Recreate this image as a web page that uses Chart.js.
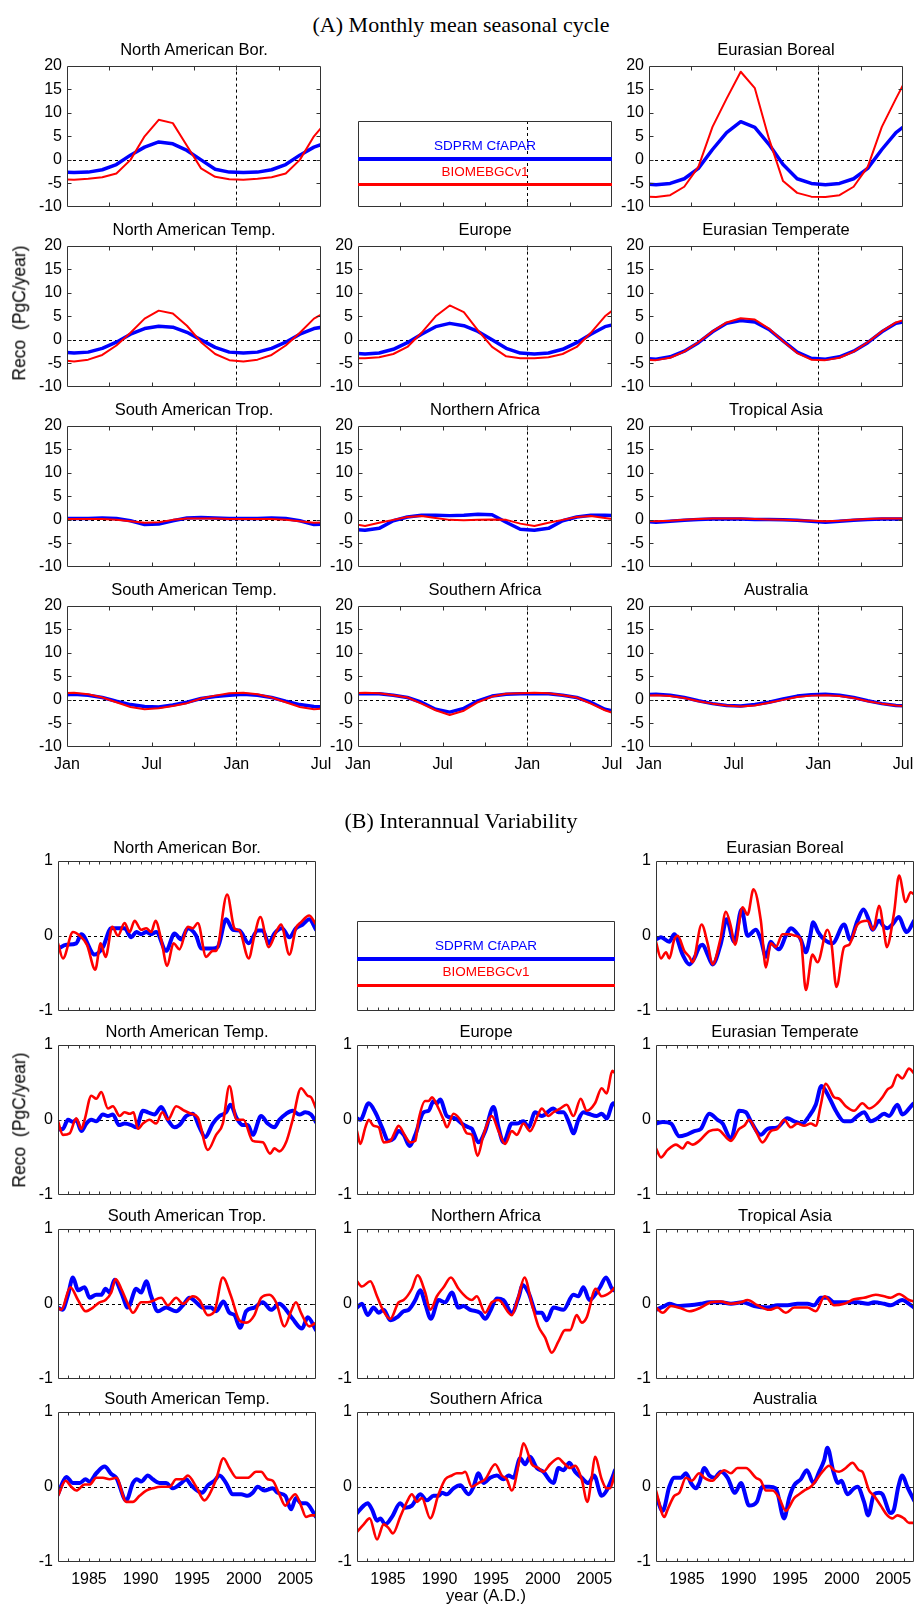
<!DOCTYPE html>
<html><head><meta charset="utf-8">
<script src="https://cdn.jsdelivr.net/npm/chart.js@4.4.1/dist/chart.umd.min.js"></script>
<style>
body{margin:0;background:#fff;}
#wrap{position:relative;width:917px;height:1605px;overflow:hidden;background:#fff;}
canvas{position:absolute;}
</style></head><body><div id="wrap"></div>
<script>
// ---------------- DATA ----------------
const regionNames = ['North American Bor.','Eurasian Boreal','North American Temp.','Europe','Eurasian Temperate','South American Trop.','Northern Africa','Tropical Asia','South American Temp.','Southern Africa','Australia'];
const seriesNames = ['SDPRM CfAPAR','BIOMEBGCv1'];
const seasonTickLabels = ['Jan','Jul','Jan','Jul'];
const seasonYTicks = [-10,-5,0,5,10,15,20];
const yearTickLabels = [1985,1990,1995,2000,2005];
const iavYTicks = [-1,0,1];

// (A) monthly mean seasonal cycle, Jan..Dec (mid-month values)
const seasNaBorBlue  = [-2.7,-2.6,-2.1,-1.0,1.0,2.7,3.8,3.4,2.0,0.0,-2.0,-2.6];
const seasNaBorRed   = [-4.2,-4.0,-3.7,-2.9,0.0,5.0,8.5,7.8,3.0,-1.8,-3.6,-4.1];
const seasEuBorBlue  = [-5.3,-5.0,-4.0,-1.8,2.2,5.8,8.1,6.9,3.3,-1.0,-4.0,-5.0];
const seasEuBorRed   = [-7.9,-7.5,-5.7,-1.5,7.0,13.0,18.7,15.2,4.5,-4.5,-7.0,-7.8];
const seasNaTempBlue = [-2.8,-2.6,-1.8,-0.5,1.2,2.4,2.9,2.7,1.6,0.0,-1.6,-2.6];
const seasNaTempRed  = [-4.6,-4.2,-3.2,-1.2,1.5,4.5,6.2,5.6,3.0,-0.5,-3.0,-4.3];
const seasEuropeBlue = [-3.0,-2.8,-2.0,-0.6,1.2,2.8,3.5,3.0,1.8,0.0,-1.8,-2.8];
const seasEuropeRed  = [-3.9,-3.7,-3.0,-1.5,1.5,5.0,7.3,5.9,2.0,-1.5,-3.5,-3.9];
const seasEuTempBlue = [-4.1,-3.6,-2.4,-0.6,1.7,3.5,4.1,3.8,2.2,-0.2,-2.6,-3.9];
const seasEuTempRed  = [-4.3,-3.8,-2.5,-0.5,1.8,3.7,4.6,4.3,2.4,-0.3,-2.8,-4.2];
const seasSaTropBlue = [0.3,0.3,0.4,0.3,-0.2,-1.0,-0.9,-0.2,0.4,0.5,0.4,0.3];
const seasSaTropRed  = [0.2,0.2,0.2,0.0,-0.3,-0.6,-0.5,0.0,0.3,0.3,0.3,0.2];
const seasNAfrBlue   = [-2.2,-1.8,-0.2,0.6,1.0,1.0,0.9,1.0,1.2,1.1,-0.5,-2.0];
const seasNAfrRed    = [-1.3,-0.6,0.0,0.6,0.8,0.4,0.0,-0.1,0.0,0.1,0.0,-0.8];
const seasTAsiaBlue  = [-0.5,-0.3,-0.1,0.1,0.2,0.2,0.2,0.1,0.1,0.0,-0.1,-0.3];
const seasTAsiaRed   = [-0.3,-0.2,0.0,0.2,0.3,0.3,0.3,0.2,0.1,0.0,-0.1,-0.2];
const seasSaTempBlue = [1.2,1.0,0.5,-0.3,-1.0,-1.4,-1.5,-1.1,-0.5,0.3,0.7,1.0];
const seasSaTempRed  = [1.5,1.2,0.5,-0.5,-1.5,-2.0,-1.8,-1.3,-0.7,0.3,0.9,1.4];
const seasSAfrBlue   = [1.3,1.3,1.0,0.5,-0.5,-2.0,-2.6,-1.8,-0.2,0.8,1.2,1.3];
const seasSAfrRed    = [1.5,1.4,1.0,0.5,-0.8,-2.2,-3.2,-2.3,-0.5,0.7,1.3,1.4];
const seasAustrBlue  = [1.2,1.0,0.5,-0.2,-0.8,-1.2,-1.3,-1.0,-0.5,0.2,0.8,1.1];
const seasAustrRed   = [1.0,0.8,0.4,-0.3,-0.8,-1.2,-1.4,-1.2,-0.6,0.0,0.6,0.9];

// (B) interannual variability, [year, PgC/yr]
const iavNaBorBlue = [[1982,-0.17],[1982.81,-0.12],[1983.77,-0.1],[1984.26,0.02],[1985.55,-0.25],[1986.35,-0.15],[1987.16,0.1],[1987.97,0.1],[1988.45,0.1],[1989.1,-0.02],[1989.58,0.05],[1990.06,0.02],[1990.55,0.05],[1991.03,0.02],[1991.52,0.05],[1992.48,-0.2],[1993.29,0.03],[1993.94,-0.05],[1994.58,0.1],[1995.39,0],[1995.87,-0.17],[1997,-0.17],[1997.48,-0.15],[1998.29,0.22],[1998.94,0.08],[1999.58,0.07],[2000.48,-0.1],[2001.35,0.07],[2001.84,0.07],[2002.42,-0.1],[2002.97,0.03],[2003.71,0.1],[2004.42,-0.02],[2005.06,0.1],[2005.71,0.15],[2006.35,0.22],[2007,0.08]];
const iavNaBorRed = [[1982,-0.1],[1982.48,-0.3],[1983.45,0.05],[1984.1,0],[1984.81,-0.12],[1985.61,-0.45],[1986.13,-0.1],[1986.61,-0.28],[1987.26,0.12],[1987.81,0],[1988.45,0.17],[1988.94,0.05],[1989.42,0.2],[1990.06,0.08],[1990.55,0.1],[1991.03,0.05],[1991.45,0.2],[1992,-0.05],[1992.58,-0.4],[1993.19,-0.1],[1993.77,-0.18],[1994.58,0.12],[1995.06,0.1],[1995.55,0.17],[1996.35,-0.28],[1997,-0.2],[1997.32,-0.2],[1998.39,0.55],[1999.1,0.1],[1999.58,0.07],[2000.48,-0.3],[2001.03,0],[2001.61,0.25],[2002.42,-0.15],[2003.13,0.05],[2003.61,0.15],[2004.42,-0.25],[2005.06,0.1],[2005.55,0.18],[2006.35,0.27],[2007,0.15]];
const iavEuBorBlue = [[1982,-0.05],[1982.48,-0.02],[1983.29,-0.08],[1983.77,0.02],[1984.58,-0.25],[1985.23,-0.38],[1985.71,-0.3],[1986.19,-0.15],[1986.52,-0.12],[1987,-0.25],[1987.48,-0.38],[1988.29,-0.1],[1988.84,0.22],[1989.58,-0.08],[1990.29,0.35],[1990.87,0],[1991.68,0.08],[1992.16,-0.05],[1992.65,-0.28],[1993.13,-0.08],[1993.39,-0.12],[1993.94,-0.18],[1994.58,0],[1995.06,0.1],[1995.55,0.05],[1996.03,-0.05],[1996.52,-0.22],[1996.94,0],[1997.23,0.18],[1997.71,0.05],[1998.29,-0.05],[1999.1,-0.1],[2000.23,0.15],[2000.81,-0.05],[2001.52,0.2],[2002.1,0.35],[2002.65,0.2],[2002.97,0.08],[2003.61,0.2],[2004.1,0.12],[2004.42,0.1],[2004.9,0.15],[2005.55,0.25],[2006.03,0.1],[2006.29,0.05],[2007,0.2]];
const iavEuBorRed = [[1982,-0.08],[1982.48,-0.3],[1982.97,-0.22],[1983.29,-0.3],[1983.77,-0.05],[1984.1,0],[1984.74,-0.2],[1985.23,-0.28],[1985.55,-0.35],[1986.42,0.15],[1987,-0.1],[1987.48,-0.38],[1988.23,-0.05],[1988.77,0.32],[1989.26,0.12],[1989.65,-0.12],[1990.39,0.38],[1990.87,0.28],[1991.45,0.62],[1992.16,0.2],[1992.65,-0.42],[1993.13,-0.1],[1993.61,-0.15],[1994.26,0.02],[1994.9,0.02],[1995.55,0],[1996.03,-0.05],[1996.52,-0.72],[1997.16,-0.25],[1997.65,-0.35],[1998.61,0.08],[1999,-0.1],[1999.48,-0.68],[2000.23,-0.15],[2000.71,-0.12],[2001.52,0.15],[2002.48,0.2],[2003.06,0.08],[2003.61,0.4],[2004.1,0.05],[2004.35,-0.15],[2005.06,0.3],[2005.55,0.8],[2006.19,0.45],[2006.68,0.58],[2007,0.55]];
const iavNaTempBlue = [[1982,-0.13],[1982.48,-0.12],[1982.97,0],[1983.45,-0.03],[1983.77,0],[1984.26,-0.15],[1984.74,-0.05],[1985.23,0],[1985.71,-0.02],[1986.35,0.07],[1986.84,0.05],[1987.32,0.07],[1987.9,-0.07],[1988.45,-0.05],[1989.1,-0.07],[1989.58,-0.1],[1990.23,0.12],[1990.71,0.1],[1991.35,0.07],[1992,0.17],[1992.65,0],[1993.29,-0.1],[1993.77,-0.07],[1994.42,0.05],[1995.06,0.08],[1995.71,-0.1],[1996.26,-0.23],[1997,-0.05],[1997.65,0.05],[1998.29,0.1],[1998.71,0.2],[1999.32,0.02],[1999.9,-0.07],[2000.39,-0.07],[2000.87,-0.2],[2001.68,0.05],[2002.32,-0.05],[2002.97,-0.1],[2003.45,0],[2004.1,0.08],[2004.74,0.12],[2005.39,0.07],[2005.97,0.1],[2006.52,0.07],[2007,-0.03]];
const iavNaTempRed = [[1982,-0.02],[1982.48,-0.2],[1983.13,-0.18],[1983.77,0.02],[1984.26,-0.12],[1984.58,0],[1985.23,0.32],[1985.71,0.28],[1986.19,0.37],[1986.84,0.15],[1987.32,0.18],[1987.97,0.05],[1988.45,0.1],[1988.94,0.08],[1989.32,0.1],[1989.74,-0.12],[1990.23,-0.05],[1990.87,0],[1991.52,-0.05],[1992.1,0.1],[1992.65,0],[1993.45,0.18],[1994.26,0.12],[1994.9,0.08],[1995.55,0.03],[1996.52,-0.4],[1997.32,-0.2],[1997.97,-0.05],[1998.61,0.45],[1999.32,0],[1999.97,0],[2000.87,-0.28],[2001.84,-0.3],[2002.55,-0.45],[2002.97,-0.38],[2003.45,-0.42],[2004.1,-0.3],[2004.74,0],[2005.55,0.42],[2006.19,0.32],[2006.52,0.3],[2007,0.15]];
const iavEuropeBlue = [[1982,0.02],[1982.32,0],[1983.13,0.22],[1983.77,0.1],[1984.42,-0.1],[1985.06,-0.28],[1985.55,-0.25],[1986.03,-0.15],[1986.52,-0.2],[1987.1,-0.35],[1987.65,-0.2],[1988.45,0.1],[1988.94,0.12],[1989.42,0.25],[1989.74,0.22],[1990.06,0.27],[1990.71,0.05],[1991.52,0.02],[1992.16,-0.05],[1992.81,-0.1],[1993.13,-0.12],[1993.77,-0.3],[1994.42,-0.15],[1995.23,0.17],[1995.71,-0.1],[1996.19,-0.3],[1997,-0.05],[1997.48,-0.05],[1998.13,-0.02],[1998.61,-0.1],[1999.26,0.1],[1999.9,0.05],[2001.03,0.15],[2001.52,0.1],[2002,0.1],[2002.58,-0.05],[2002.97,-0.18],[2003.45,0],[2003.94,0.1],[2004.42,0.08],[2005.23,0.05],[2005.71,0.08],[2006.19,0.02],[2006.84,0.22],[2007,0.2]];
const iavEuropeRed = [[1982,-0.15],[1982.32,-0.32],[1982.81,-0.1],[1983.13,0],[1983.61,-0.08],[1984.1,-0.1],[1984.58,-0.3],[1985.23,-0.28],[1985.71,-0.15],[1986.03,-0.08],[1986.68,-0.22],[1987.16,-0.3],[1987.65,-0.28],[1987.97,0],[1988.61,0.25],[1988.94,0.25],[1989.26,0.3],[1989.9,0.15],[1990.39,0],[1990.71,-0.1],[1991.35,0.08],[1992,0],[1992.65,-0.18],[1993.13,-0.2],[1993.68,-0.48],[1994.26,-0.2],[1995.06,0.05],[1995.71,-0.15],[1996.35,-0.32],[1997,-0.15],[1997.48,-0.2],[1998.13,-0.05],[1998.77,-0.15],[1999.58,0.08],[1999.9,0.15],[2000.55,0.05],[2001.03,0.1],[2001.68,0.15],[2002.32,0.2],[2002.97,0.05],[2003.68,0.28],[2004.26,0.12],[2005.06,0.22],[2005.71,0.42],[2006.19,0.35],[2006.74,0.65],[2007,0.62]];
const iavEuTempBlue = [[1982,-0.05],[1982.65,-0.03],[1983.45,-0.05],[1984.26,-0.22],[1984.9,-0.2],[1985.71,-0.15],[1986.35,-0.12],[1987.16,0.08],[1987.97,0],[1988.45,-0.05],[1989.26,-0.25],[1990.06,0.12],[1990.71,0.1],[1991.19,-0.02],[1992.16,-0.2],[1992.81,-0.12],[1993.77,-0.1],[1994.74,0.02],[1995.39,-0.02],[1996.19,-0.05],[1996.84,0.05],[1997.48,0.2],[1998.03,0.45],[1998.77,0.3],[1999.42,0.12],[2000.23,-0.02],[2000.87,-0.02],[2001.52,0.05],[2002.16,0.1],[2002.81,-0.02],[2003.45,0.02],[2004.1,0.08],[2004.58,0.05],[2005.39,0.2],[2005.87,0.07],[2006.84,0.2],[2007,0.22]];
const iavEuTempRed = [[1982,-0.38],[1982.48,-0.5],[1983.13,-0.4],[1983.94,-0.33],[1984.58,-0.38],[1985.06,-0.3],[1985.55,-0.33],[1986.19,-0.28],[1987.16,-0.15],[1987.97,-0.13],[1989.26,-0.28],[1990.06,-0.12],[1990.55,-0.08],[1991.03,0],[1991.68,-0.15],[1992.32,-0.3],[1993.13,-0.15],[1993.77,-0.12],[1994.42,0],[1995.06,-0.1],[1995.71,-0.05],[1996.35,-0.08],[1997,-0.05],[1997.48,-0.08],[1997.97,0.2],[1998.45,0.48],[1999.26,0.3],[1999.74,0.28],[2000.39,0.18],[2001.19,0.12],[2002,0.22],[2002.65,0.15],[2003.45,0.22],[2003.94,0.3],[2004.42,0.4],[2004.9,0.45],[2005.39,0.6],[2005.87,0.55],[2006.52,0.68],[2007,0.62]];
const iavSaTropBlue = [[1982,-0.05],[1982.42,-0.08],[1982.97,0.12],[1983.45,0.35],[1983.94,0.18],[1984.58,0.22],[1985.06,0.08],[1985.71,0.12],[1986.19,0.12],[1986.61,0.2],[1987,0.15],[1987.48,0.32],[1988.13,0.15],[1988.77,-0.05],[1989.58,0.2],[1990.06,0.15],[1990.55,0.3],[1991.03,0.1],[1991.68,-0.1],[1992.48,-0.05],[1993.45,-0.1],[1994.1,-0.02],[1994.74,0.08],[1995.39,0.02],[1996.03,-0.05],[1996.84,-0.05],[1997.32,-0.1],[1998.03,0.03],[1998.61,-0.12],[1999.1,-0.15],[1999.65,-0.32],[2000.23,-0.1],[2001.03,-0.05],[2001.84,0.02],[2002.65,-0.08],[2003.45,0],[2004.1,-0.08],[2004.74,-0.2],[2005.65,-0.33],[2006.19,-0.18],[2007,-0.35]];
const iavSaTropRed = [[1982,-0.05],[1982.32,-0.08],[1983.19,0.22],[1983.94,0.05],[1984.68,-0.1],[1985.39,-0.05],[1986.03,0.02],[1986.61,0.05],[1987.16,0.15],[1987.58,0.33],[1988.13,0.2],[1988.77,0],[1989.26,-0.12],[1990.06,0.02],[1990.71,0.02],[1992,0.08],[1992.65,-0.02],[1993.45,0.08],[1994.1,0],[1995.06,0.1],[1995.71,0.05],[1996.52,-0.15],[1997.16,-0.1],[1997.97,0.35],[1998.77,0.1],[1999.58,-0.22],[2000.23,-0.25],[2001.03,-0.15],[2001.68,0.08],[2002.48,0.12],[2003.13,0.02],[2003.94,-0.3],[2004.58,-0.1],[2005.06,0.02],[2005.55,-0.12],[2006.35,-0.3],[2007,-0.25]];
const iavNAfrBlue = [[1982,-0.05],[1982.48,0],[1983.03,-0.15],[1983.61,-0.05],[1984.1,-0.12],[1984.58,-0.08],[1985.23,-0.22],[1985.87,-0.18],[1986.52,-0.1],[1987,-0.08],[1987.65,0.05],[1988.13,0.18],[1988.61,0],[1989.16,-0.2],[1989.9,0.05],[1990.55,0.02],[1991.19,0.15],[1991.84,-0.05],[1992.32,-0.03],[1992.97,-0.08],[1993.94,-0.12],[1994.42,-0.2],[1994.9,-0.1],[1995.55,0.07],[1996.19,0.05],[1997,-0.12],[1997.65,0.08],[1998.06,0.25],[1998.61,0.15],[1999.42,-0.12],[1999.9,-0.12],[2000.39,-0.22],[2001.03,-0.05],[2002,-0.08],[2002.97,0.12],[2003.45,0.1],[2003.94,0.22],[2004.52,0.05],[2005.06,0.12],[2005.55,0.22],[2006.13,0.35],[2006.84,0.18],[2007,0.18]];
const iavNAfrRed = [[1982,0.3],[1982.48,0.23],[1983.29,0.3],[1983.94,0.1],[1984.58,-0.1],[1985.23,-0.2],[1986.03,0.02],[1986.52,0.05],[1987.32,0.2],[1987.87,0.38],[1988.61,0.15],[1989.1,-0.08],[1989.74,0.1],[1990.39,0.22],[1991.1,0.35],[1991.84,0.2],[1992.65,0.08],[1993.13,0.05],[1993.61,0.1],[1994.42,-0.12],[1995.06,0.02],[1995.71,0.05],[1997,-0.15],[1997.65,0.1],[1998.23,0.35],[1998.94,0],[1999.58,-0.3],[2000.23,-0.45],[2000.87,-0.65],[2001.52,-0.5],[2002.16,-0.35],[2002.65,-0.35],[2003.29,-0.15],[2003.77,-0.25],[2004.26,-0.18],[2005.13,0.2],[2005.71,0.1],[2006.52,0.15],[2007,0.22]];
const iavTAsiaBlue = [[1982,-0.08],[1982.81,-0.03],[1983.29,0],[1984.1,-0.03],[1985.23,-0.02],[1986.35,0],[1987.16,0.02],[1988.29,0.02],[1989.26,0],[1990.39,0.02],[1991.52,-0.03],[1992.81,-0.05],[1993.77,-0.02],[1994.74,-0.02],[1995.71,0],[1996.68,0],[1997.32,-0.02],[1997.97,0.08],[1998.61,0.08],[1999.26,0.02],[2000.23,0.02],[2001.52,0.02],[2002.48,0],[2003.13,0.02],[2004.1,0],[2004.74,-0.02],[2005.87,0.05],[2006.52,0],[2007,-0.05]];
const iavTAsiaRed = [[1982,-0.05],[1982.65,-0.12],[1983.45,-0.03],[1984.42,-0.06],[1985.23,-0.1],[1986.35,-0.05],[1987.32,0.02],[1988.29,0.03],[1989.26,0],[1990.23,0.02],[1990.87,0.05],[1991.84,-0.02],[1992.97,-0.08],[1993.77,-0.05],[1994.58,-0.12],[1995.39,-0.05],[1996.68,-0.05],[1997.48,-0.1],[1998.35,0.1],[1999.26,-0.02],[2000.23,0],[2001.19,0.06],[2002.16,0.08],[2003.29,0.12],[2004.1,0.1],[2004.74,0.08],[2005.55,0.13],[2006.52,0.05],[2007,0.03]];
const iavSaTempBlue = [[1982,-0.1],[1982.42,0.05],[1982.81,0.13],[1983.45,0.05],[1984.1,0.05],[1984.68,0.1],[1985.06,0.07],[1985.71,0.18],[1986.52,0.27],[1987.16,0.17],[1987.65,0.12],[1988.61,-0.18],[1989.26,0.05],[1989.65,0.1],[1990.06,0.07],[1990.71,0.15],[1991.19,0.1],[1991.84,0.05],[1992.48,0.05],[1993.13,-0.02],[1993.94,0.05],[1994.42,0.1],[1994.9,0.02],[1995.97,-0.08],[1996.52,0.02],[1997.16,0.08],[1997.65,0.15],[1998.29,0.05],[1998.94,-0.1],[1999.74,-0.1],[2000.39,-0.12],[2000.87,-0.08],[2001.35,0],[2002,-0.05],[2002.81,-0.02],[2003.29,-0.08],[2004.03,-0.12],[2004.58,-0.3],[2005.06,-0.15],[2005.55,-0.22],[2006.03,-0.22],[2007,-0.4]];
const iavSaTempRed = [[1982,-0.12],[1982.74,0.08],[1983.29,0],[1983.77,-0.05],[1984.58,0.03],[1985.06,0.03],[1985.71,0.12],[1986.35,0.12],[1987,0.1],[1987.65,0.12],[1988.61,-0.2],[1989.26,-0.2],[1989.9,-0.12],[1990.55,-0.05],[1991.19,-0.02],[1992,0],[1992.81,0],[1993.45,0.1],[1994.1,0.1],[1994.58,0.15],[1995.39,0],[1996.19,-0.18],[1996.68,-0.1],[1997.32,0.1],[1998.03,0.38],[1998.61,0.25],[1999.32,0.12],[1999.9,0.12],[2000.39,0.12],[2001.19,0.2],[2001.68,0.2],[2002.32,0.1],[2002.81,0.08],[2003.45,-0.1],[2004.03,-0.25],[2004.42,-0.18],[2005,-0.1],[2005.55,-0.25],[2006.03,-0.4],[2006.52,-0.38],[2007,-0.38]];
const iavSAfrBlue = [[1982,-0.35],[1982.65,-0.25],[1983.03,-0.22],[1983.45,-0.3],[1983.94,-0.45],[1984.26,-0.42],[1984.74,-0.5],[1985.39,-0.4],[1986.19,-0.22],[1986.68,-0.28],[1987.32,-0.25],[1988.13,-0.1],[1988.77,-0.18],[1989.42,-0.12],[1989.9,-0.12],[1990.23,-0.08],[1990.71,-0.1],[1991.35,-0.02],[1992,0.02],[1992.81,-0.1],[1993.29,0],[1993.77,0.18],[1994.26,0.05],[1994.9,0.12],[1995.55,0.15],[1996.19,0.1],[1996.68,0.15],[1997.16,0.12],[1997.81,0.38],[1998.29,0.3],[1998.77,0.4],[1999.42,0.25],[2000.06,0.2],[2000.71,0.08],[2001.03,0.05],[2001.52,0.25],[2002,0.22],[2002.58,0.32],[2003.13,0.2],[2003.77,0.12],[2004.42,0.05],[2004.97,0.15],[2005.71,-0.12],[2006.19,-0.05],[2006.68,0.1],[2007,0.22]];
const iavSAfrRed = [[1982,-0.6],[1982.65,-0.5],[1983.23,-0.42],[1983.94,-0.7],[1984.58,-0.5],[1985.06,-0.55],[1985.48,-0.62],[1986.19,-0.4],[1986.84,-0.2],[1987.32,-0.1],[1987.81,-0.2],[1988.29,-0.15],[1989.1,-0.42],[1989.9,-0.1],[1990.55,0.1],[1991.19,0.15],[1991.68,0.18],[1992.16,0.18],[1992.48,0.2],[1993.13,0],[1993.77,0.05],[1994.42,0.1],[1995.39,0.3],[1996.03,0.15],[1996.52,0.1],[1997,-0.05],[1997.81,0.4],[1998.13,0.58],[1998.94,0.3],[1999.58,0.25],[2000.06,0.2],[2000.71,0.3],[2001.52,0.38],[2002,0.32],[2002.65,0.25],[2003.13,0.28],[2003.77,0.1],[2004.32,-0.2],[2004.74,0.12],[2005.06,0.4],[2005.71,0.1],[2006.19,-0.02],[2006.52,-0.02],[2007,0.18]];
const iavAustrBlue = [[1982,-0.12],[1982.65,-0.32],[1983.29,0],[1983.77,0.12],[1984.42,0.12],[1984.9,0.18],[1985.39,0.05],[1985.87,-0.02],[1986.19,0.05],[1986.68,0.25],[1987.16,0.15],[1987.65,0.12],[1988.29,0.2],[1988.94,0.12],[1989.65,-0.08],[1990.23,0.05],[1991.03,-0.25],[1991.77,-0.2],[1992.32,0],[1992.97,0],[1993.61,-0.02],[1994.42,-0.42],[1994.9,-0.15],[1995.39,0.02],[1996.03,0.1],[1996.61,0.22],[1997.26,0.05],[1997.81,0.2],[1998.29,0.35],[1998.61,0.52],[1999.19,0.2],[1999.65,0.05],[1999.97,0.08],[2000.55,-0.1],[2001.19,-0.02],[2001.52,0],[2002.16,-0.2],[2002.55,-0.38],[2003.13,-0.1],[2003.61,-0.08],[2003.94,-0.1],[2004.74,-0.35],[2005.06,-0.3],[2005.48,0],[2005.87,0.15],[2006.35,0],[2007,-0.18]];
const iavAustrRed = [[1982,-0.05],[1982.81,-0.4],[1983.13,-0.3],[1983.77,-0.12],[1984.26,-0.08],[1984.9,0.12],[1985.45,0.08],[1986.19,0.18],[1986.68,0.12],[1987.48,0.08],[1987.97,0.15],[1988.61,0.22],[1989.26,0.18],[1989.9,0.25],[1990.71,0.25],[1991.68,0.12],[1992.16,0.08],[1992.65,-0.05],[1993.29,-0.05],[1993.94,-0.15],[1994.58,-0.32],[1995.39,-0.15],[1995.87,-0.1],[1996.35,-0.05],[1997,0],[1997.32,0.05],[1998.13,0.2],[1998.77,0.28],[1999.26,0.22],[1999.74,0.2],[2000.39,0.25],[2001.03,0.32],[2001.68,0.22],[2002,0.2],[2002.65,-0.05],[2003.13,-0.12],[2003.77,-0.25],[2004.42,-0.38],[2004.9,-0.42],[2005.39,-0.38],[2006.03,-0.42],[2006.52,-0.48],[2007,-0.48]];

// ---------------- LAYOUT ----------------
const FONT = '"Liberation Sans", Arial, Helvetica, sans-serif';
const SERIF = '"Liberation Serif", "Times New Roman", serif';
const BLUE = '#0000ff', RED = '#ff0000';
const ML = 60, MT = 14, MR = 20, MB = 42;
const A = {cols:[67,358,649], w:254, rows:[65,245,425,605], h:142, legTop:121};
const B = {cols:[58,357,656], w:258, rows:[860,1044,1228,1411], h:151, legTop:921};
const wrap = document.getElementById('wrap');

function addText(txt, cx, cy, size, o) {
  o = o || {};
  const d = document.createElement('div');
  d.textContent = txt;
  d.style.cssText = 'position:absolute;left:'+cx+'px;top:'+cy+'px;transform:translate(-50%,-50%)'+(o.rot?' rotate(-90deg)':'')+
    ';font-size:'+size+'px;font-family:'+(o.family||FONT)+';color:'+(o.color||'#000')+';white-space:pre;line-height:1;';
  wrap.appendChild(d);
}
function addBar(x, y, w, h, color) {
  const d = document.createElement('div');
  d.style.cssText = 'position:absolute;left:'+x+'px;top:'+y+'px;width:'+w+'px;height:'+h+'px;background:'+color+';';
  wrap.appendChild(d);
}

const frameP = {
  id: 'frameP',
  beforeDatasetsDraw(chart, args, o) {
    const ctx = chart.ctx, ca = chart.chartArea, xs = chart.scales.x, ys = chart.scales.y;
    ctx.save(); ctx.strokeStyle = '#000'; ctx.lineWidth = 1; ctx.setLineDash([3,3]);
    ctx.beginPath();
    if (o.zero) { const py = Math.round(ys.getPixelForValue(0)) + 0.5; ctx.moveTo(ca.left, py); ctx.lineTo(ca.right, py); }
    if (typeof o.vline === 'number') { const px = Math.round(xs.getPixelForValue(o.vline)) + 0.5; ctx.moveTo(px, ca.top); ctx.lineTo(px, ca.bottom); }
    ctx.stroke(); ctx.restore();
  },
  afterDraw(chart, args, o) {
    const ctx = chart.ctx, ca = chart.chartArea, xs = chart.scales.x, ys = chart.scales.y;
    const L = Math.round(ca.left) + 0.5, R = Math.round(ca.right) - 0.5, T = Math.round(ca.top) + 0.5, Bt = Math.round(ca.bottom) - 0.5;
    const tl = o.tl || 4;
    ctx.save(); ctx.strokeStyle = '#333'; ctx.lineWidth = 1; ctx.setLineDash([]);
    ctx.beginPath();
    ctx.rect(L, T, R - L, Bt - T);
    (o.xt || []).forEach(v => { const px = Math.round(xs.getPixelForValue(v)) + 0.5;
      ctx.moveTo(px, Bt); ctx.lineTo(px, Bt - tl); if (o.top) { ctx.moveTo(px, T); ctx.lineTo(px, T + tl); } });
    (o.yt || []).forEach(v => { const py = Math.round(ys.getPixelForValue(v)) + 0.5;
      ctx.moveTo(L, py); ctx.lineTo(L + tl, py); ctx.moveTo(R, py); ctx.lineTo(R - tl, py); });
    ctx.stroke(); ctx.restore();
  }
};

function makeChart(p) {
  const c = document.createElement('canvas');
  const cw = p.w + ML + MR, ch = p.h + MT + MB;
  c.width = cw; c.height = ch;
  c.style.left = (p.x - ML) + 'px'; c.style.top = (p.y - MT) + 'px';
  c.style.width = cw + 'px'; c.style.height = ch + 'px';
  wrap.appendChild(c);
  new Chart(c.getContext('2d'), {
    type: 'line',
    data: { datasets: p.datasets },
    options: {
      responsive: false, animation: false, events: [],
      layout: { padding: { top: MT, right: MR, left: 0, bottom: 0 } },
      plugins: { legend: { display: false }, tooltip: { enabled: false }, frameP: p.frame },
      elements: { point: { radius: 0 } },
      scales: {
        x: { type: 'linear', min: p.xmin, max: p.xmax,
             grid: { display: false, drawTicks: false }, border: { display: false },
             afterBuildTicks: s => { s.ticks = p.xVals.map(v => ({ value: v })); },
             afterFit: s => { s.height = MB; },
             ticks: { display: p.showX, autoSkip: false, maxRotation: 0, minRotation: 0, padding: 8,
                      color: '#000', font: { family: FONT, size: 16 }, callback: (v, i) => p.xLabs[i] } },
        y: { type: 'linear', min: p.ymin, max: p.ymax,
             grid: { display: false, drawTicks: false }, border: { display: false },
             afterBuildTicks: s => { s.ticks = p.yVals.map(v => ({ value: v })); },
             afterFit: s => { s.width = ML; },
             ticks: { display: p.showY, padding: 5, color: '#000', font: { family: FONT, size: 16 },
                      callback: v => String(v) } }
      }
    },
    plugins: [frameP]
  });
}

function seasonPoints(m) { const pts = []; for (let k = -1; k <= 18; k++) pts.push({ x: k + 0.5, y: m[(k + 12) % 12] }); return pts; }
function pairPoints(a) { return a.map(q => ({ x: q[0], y: q[1] })); }
function lineDs(pts, color, width, order, smooth) {
  return { data: pts, borderColor: color, backgroundColor: color, borderWidth: width, pointRadius: 0, fill: false,
           order: order, clip: 0, tension: 0, cubicInterpolationMode: smooth ? 'monotone' : 'default',
           borderJoinStyle: 'round', borderCapStyle: 'round' };
}

const seasonMinor = [3,6,9,12,15];
const yearMinor = []; for (let yy = 1983; yy <= 2006; yy++) yearMinor.push(yy);

// grid: [row][col] -> region index, -1 = legend
const grid = [[0,-1,1],[2,3,4],[5,6,7],[8,9,10]];
const seasSeries = [[seasNaBorBlue,seasNaBorRed],[seasEuBorBlue,seasEuBorRed],[seasNaTempBlue,seasNaTempRed],[seasEuropeBlue,seasEuropeRed],[seasEuTempBlue,seasEuTempRed],[seasSaTropBlue,seasSaTropRed],[seasNAfrBlue,seasNAfrRed],[seasTAsiaBlue,seasTAsiaRed],[seasSaTempBlue,seasSaTempRed],[seasSAfrBlue,seasSAfrRed],[seasAustrBlue,seasAustrRed]];
const iavSeries = [[iavNaBorBlue,iavNaBorRed],[iavEuBorBlue,iavEuBorRed],[iavNaTempBlue,iavNaTempRed],[iavEuropeBlue,iavEuropeRed],[iavEuTempBlue,iavEuTempRed],[iavSaTropBlue,iavSaTropRed],[iavNAfrBlue,iavNAfrRed],[iavTAsiaBlue,iavTAsiaRed],[iavSaTempBlue,iavSaTempRed],[iavSAfrBlue,iavSAfrRed],[iavAustrBlue,iavAustrRed]];

// ---- Section A ----
addText('(A) Monthly mean seasonal cycle', 461, 25, 22, { family: SERIF });
grid.forEach((row, r) => row.forEach((idx, cI) => {
  const x = A.cols[cI];
  if (idx < 0) {
    const top = A.legTop, h = A.rows[r] + A.h - top;
    makeChart({ x: x, y: top, w: A.w, h: h, datasets: [], xmin: 0, xmax: 18, xVals: [], xLabs: [], showX: false,
      ymin: 0, ymax: 1, yVals: [], showY: false, frame: { xt: seasonMinor, yt: [], top: false, zero: false, vline: 12, tl: 4 } });
    addText(seriesNames[0], x + A.w / 2, top + 25, 13.5, { color: BLUE });
    addBar(x, top + 36, A.w, 4, BLUE);
    addText(seriesNames[1], x + A.w / 2, top + 51, 13.5, { color: RED });
    addBar(x, top + 61.5, A.w, 3, RED);
    return;
  }
  const y = A.rows[r];
  const s = seasSeries[idx];
  makeChart({ x: x, y: y, w: A.w, h: A.h,
    datasets: [ lineDs(seasonPoints(s[1]), RED, 2, 0, false), lineDs(seasonPoints(s[0]), BLUE, 3.5, 1, false) ],
    xmin: 0, xmax: 18, xVals: seasonTickLabels.map((l, i) => i * 6), xLabs: seasonTickLabels, showX: r === 3,
    ymin: -10, ymax: 20, yVals: seasonYTicks, showY: true,
    frame: { xt: seasonMinor, yt: [-5,0,5,10,15], top: true, zero: true, vline: 12, tl: 4 } });
  addText(regionNames[idx], x + A.w / 2, y - 16, 16.5);
}));
addText('Reco  (PgC/year)', 20, 313, 17.5, { rot: true });

// ---- Section B ----
addText('(B) Interannual Variability', 461, 821, 22, { family: SERIF });
grid.forEach((row, r) => row.forEach((idx, cI) => {
  const x = B.cols[cI];
  if (idx < 0) {
    const top = B.legTop, h = B.rows[r] + B.h - top;
    makeChart({ x: x, y: top, w: B.w, h: h, datasets: [], xmin: 1982, xmax: 2007, xVals: [], xLabs: [], showX: false,
      ymin: 0, ymax: 1, yVals: [], showY: false, frame: { xt: yearMinor, yt: [], top: false, zero: false, tl: 3 } });
    addText(seriesNames[0], x + B.w / 2, top + 25, 13.5, { color: BLUE });
    addBar(x, top + 36, B.w, 4, BLUE);
    addText(seriesNames[1], x + B.w / 2, top + 51, 13.5, { color: RED });
    addBar(x, top + 62.5, B.w, 3, RED);
    return;
  }
  const y = B.rows[r];
  const s = iavSeries[idx];
  makeChart({ x: x, y: y, w: B.w, h: B.h,
    datasets: [ lineDs(pairPoints(s[1]), RED, 2.6, 0, true), lineDs(pairPoints(s[0]), BLUE, 4, 1, true) ],
    xmin: 1982, xmax: 2007, xVals: yearTickLabels, xLabs: yearTickLabels.map(String), showX: r === 3,
    ymin: -1, ymax: 1, yVals: iavYTicks, showY: true,
    frame: { xt: yearMinor, yt: [0], top: true, zero: true, tl: 3 } });
  addText(regionNames[idx], x + B.w / 2, y - 13, 16.5);
}));
addText('Reco  (PgC/year)', 20, 1120, 17.5, { rot: true });
addText('year (A.D.)', 486, 1595, 16.5);
</script></body></html>
